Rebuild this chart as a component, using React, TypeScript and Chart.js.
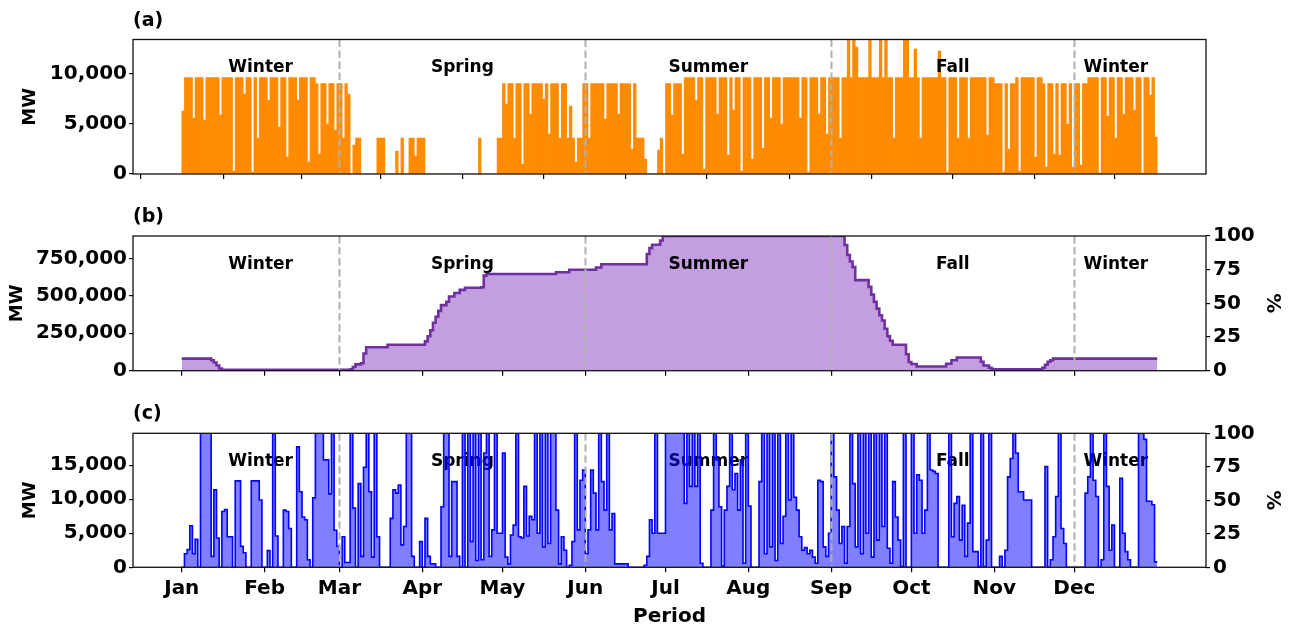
import React, { useEffect, useRef } from "react";
import { Chart, registerables } from "chart.js";

Chart.register(...registerables);

// ---------------- calendar / axes ----------------
const MONTH_LABELS = ["Jan", "Feb", "Mar", "Apr", "May", "Jun", "Jul", "Aug", "Sep", "Oct", "Nov", "Dec"];
const MONTH_START_DAY = [0, 31, 59, 90, 120, 151, 181, 212, 243, 273, 304, 334];
const SEASON_NAMES = ["Winter", "Spring", "Summer", "Fall", "Winter"];
const SEASON_EDGES = [0, 59, 151, 243, 334, 365];
const X_RANGE = [-18.25, 383.25];

const A_TICKS = [0, 5000, 10000];
const A_MAX = 13450;
const B_TICKS = [0, 250000, 500000, 750000];
const B_MAX = 900000;
const C_TICKS = [0, 5000, 10000, 15000];
const C_MAX = 19700;
const PCT_TICKS = [0, 25, 50, 75, 100];

// ---------------- panel (a): daily MW, one array per month ----------------
const A_JAN = [6300, 9650, 9650, 9650, 5600, 9650, 9650, 9650, 5400, 9650, 9650, 9650, 9650, 9650, 5900, 9650, 9650, 9650, 9650, 300, 9650, 9650, 9650, 8000, 9650, 9650, 200, 9650, 3600, 9650, 9650];
const A_FEB = [9650, 7400, 9650, 9650, 9650, 4700, 9650, 9650, 1700, 9650, 9650, 9650, 7400, 9650, 9650, 9650, 1200, 9650, 9650, 9050, 2000, 9050, 9050, 5000, 9050, 9050, 4400, 9050];
const A_MAR = [9050, 3600, 9050, 8000, 0, 2900, 3600, 3600, 0, 0, 0, 0, 0, 0, 3600, 3600, 3600, 0, 0, 0, 0, 2300, 0, 3600, 0, 0, 3600, 3600, 1800, 3600, 3600];
const A_APR = [3600, 0, 0, 0, 0, 0, 0, 0, 0, 0, 0, 0, 0, 0, 0, 0, 0, 0, 0, 0, 0, 3600, 0, 0, 0, 0, 0, 0, 3600, 3600];
const A_MAY = [9050, 7000, 9050, 9050, 3600, 9050, 9050, 1000, 9050, 9050, 6000, 9050, 9050, 9050, 9050, 7500, 9050, 4000, 9050, 9050, 9050, 3600, 9050, 9050, 3600, 6800, 3600, 1200, 3600, 3600, 9050];
const A_JUN = [9050, 3600, 9050, 9050, 9050, 9050, 9050, 5500, 9050, 9050, 9050, 9050, 6000, 9050, 9050, 9050, 9050, 2500, 9050, 3600, 3600, 3600, 1500, 0, 0, 0, 0, 2400, 3600, 0];
const A_JUL = [9050, 9050, 5900, 9050, 9050, 9050, 2000, 9650, 9650, 9650, 9650, 7400, 9650, 9650, 500, 9650, 9650, 9650, 9650, 6000, 9650, 9650, 9650, 1900, 9650, 6400, 9650, 9650, 300, 9650, 9650];
const A_AUG = [9650, 1500, 9650, 9650, 9650, 2600, 9650, 9650, 5600, 9650, 9650, 9650, 5000, 9650, 9650, 9650, 9650, 9650, 9650, 5600, 9650, 9650, 200, 9650, 9650, 9650, 6000, 9650, 9650, 4000, 9650];
const A_SEP = [9650, 9650, 9650, 3600, 9650, 9650, 14000, 9650, 14000, 12700, 9650, 9650, 9650, 9650, 14000, 9650, 9650, 9650, 14000, 9650, 14000, 9650, 9650, 3600, 9650, 9650, 9650, 14000, 14000, 9650];
const A_OCT = [9650, 12500, 9650, 3600, 9650, 9650, 9650, 9650, 9650, 9650, 12300, 9650, 9650, 200, 9650, 9650, 9650, 3600, 9650, 9650, 9650, 3600, 9650, 9650, 9650, 9650, 9650, 9650, 3900, 9650, 9650];
const A_NOV = [9050, 9050, 9050, 200, 9050, 2500, 9050, 9050, 9650, 300, 9650, 9650, 9650, 9650, 9650, 1700, 9650, 9650, 9050, 700, 9050, 9050, 2000, 9050, 1900, 9050, 9050, 5000, 9050, 700];
const A_DEC = [9050, 9050, 900, 9050, 9050, 9650, 9650, 9650, 9650, 100, 9650, 9650, 5800, 9650, 9650, 3600, 9650, 9650, 6000, 9650, 9650, 9650, 6400, 9650, 9650, 100, 9650, 9650, 7900, 9650, 3700];

// ---------------- panel (b): step breakpoints (day, MW) ----------------
const B_DAY = [0, 11, 12, 13, 14, 15, 63, 64, 65, 67, 68, 69, 77, 91, 92, 93, 94, 95, 96, 97, 99, 100, 102, 104, 106, 112, 113, 114, 140, 145, 155, 157, 174, 175, 176, 179, 180, 248, 249, 250, 251, 252, 257, 258, 259, 260, 261, 262, 263, 264, 265, 266, 271, 272, 273, 275, 286, 288, 290, 299, 300, 302, 303, 304, 322, 323, 324, 325, 326, 365];
const B_MW = [81000, 70000, 55000, 35000, 15000, 6000, 10000, 25000, 42000, 50000, 115000, 157000, 173000, 196000, 230000, 270000, 320000, 360000, 400000, 438000, 461000, 496000, 519000, 540000, 554000, 558000, 635000, 646000, 658000, 674000, 690000, 711000, 780000, 819000, 842000, 870000, 900000, 840000, 773000, 730000, 692000, 605000, 560000, 508000, 460000, 415000, 370000, 335000, 280000, 231000, 200000, 173000, 110000, 58000, 45000, 28000, 46000, 70000, 88000, 60000, 35000, 20000, 11500, 9000, 20000, 40000, 60000, 70000, 81000, 81000];

// ---------------- panel (c): daily MW, one array per month ----------------
const C_JAN = [0, 2000, 2600, 6100, 2000, 4100, 0, 19700, 19700, 19700, 19700, 1600, 11400, 4300, 0, 8200, 8500, 4500, 4500, 0, 12700, 12700, 3100, 2150, 0, 0, 12700, 12700, 12700, 9900, 0];
const C_FEB = [0, 2450, 0, 19700, 4600, 0, 0, 8400, 8200, 5700, 0, 0, 17700, 11100, 7400, 7000, 1100, 0, 10200, 19700, 19700, 19700, 15800, 15800, 10800, 19700, 5450, 3100];
const C_MAR = [0, 4500, 700, 700, 19700, 8700, 0, 12300, 1600, 14700, 19700, 11100, 1500, 19700, 4500, 0, 0, 0, 0, 7200, 11400, 10900, 12100, 3300, 6000, 19700, 19700, 1600, 0, 0, 3800];
const C_APR = [0, 7200, 1600, 500, 500, 0, 0, 8900, 19700, 19700, 1600, 12600, 12600, 1600, 0, 19700, 0, 19700, 3800, 19700, 1000, 19700, 1100, 16800, 19700, 1600, 5500, 19700, 5000, 5000];
const C_MAY = [16800, 1500, 500, 4750, 6200, 19700, 4500, 4300, 11900, 4600, 7500, 7000, 19700, 5000, 19700, 3000, 19700, 3500, 19700, 19700, 8400, 500, 4500, 2500, 0, 300, 3800, 19700, 5500, 12800, 14300];
const C_JUN = [2000, 5500, 14300, 10900, 5500, 19700, 12600, 8400, 19700, 5500, 7900, 500, 500, 500, 500, 500, 0, 0, 0, 0, 0, 0, 300, 1600, 7000, 5000, 19700, 5000, 5000, 5000];
const C_JUL = [19700, 19700, 19700, 19700, 19700, 19700, 19700, 9400, 19700, 11900, 19700, 11900, 19700, 600, 0, 0, 0, 8400, 19700, 15800, 8900, 200, 8400, 11900, 19700, 11400, 13800, 8400, 15800, 600, 19700];
const C_AUG = [9000, 0, 0, 0, 12600, 19700, 2000, 19700, 3000, 19700, 1000, 19700, 3500, 7500, 19700, 9900, 19700, 10300, 8400, 4500, 2500, 2900, 2000, 2500, 1500, 600, 12800, 12600, 3000, 1600, 5000];
const C_SEP = [19700, 13300, 8400, 3500, 6000, 600, 6000, 19700, 12300, 3000, 19700, 2000, 19700, 5000, 19700, 1500, 19700, 4000, 19700, 6000, 19700, 2800, 600, 12600, 7400, 4000, 100, 19700, 0, 0];
const C_OCT = [19700, 5000, 13600, 12800, 5000, 8400, 19700, 14300, 14100, 13800, 0, 0, 0, 0, 19700, 4500, 9400, 10400, 4000, 9100, 1600, 6500, 19700, 2300, 2300, 100, 19700, 100, 4000, 19700, 0];
const C_NOV = [0, 0, 1600, 0, 2500, 13300, 16000, 19700, 16800, 11100, 11100, 9900, 9900, 9900, 0, 0, 0, 0, 0, 14800, 0, 1100, 4500, 10400, 19700, 5700, 3500, 0, 0, 0];
const C_DEC = [0, 0, 0, 0, 10900, 13300, 19700, 12800, 10400, 0, 1100, 19700, 11900, 2500, 6200, 0, 0, 13100, 5000, 2300, 1100, 0, 0, 0, 19700, 19700, 18800, 9700, 9700, 9200, 800];

// ---------------- style ----------------
const FAMILY = "'DejaVu Sans', 'Liberation Sans', Arial, sans-serif";
const TICK_FONT = { family: FAMILY, size: 20, weight: "bold" as const };
const AXIS_TITLE_FONT = { family: FAMILY, size: 18, weight: "bold" as const };

const A_DAILY = [A_JAN, A_FEB, A_MAR, A_APR, A_MAY, A_JUN, A_JUL, A_AUG, A_SEP, A_OCT, A_NOV, A_DEC].flat();
const C_DAILY = [C_JAN, C_FEB, C_MAR, C_APR, C_MAY, C_JUN, C_JUL, C_AUG, C_SEP, C_OCT, C_NOV, C_DEC].flat();

function monthAxis(showLabels: boolean, axisHeight: number) {
  return {
    type: "linear",
    min: X_RANGE[0],
    max: X_RANGE[1],
    offset: false,
    afterBuildTicks: (s: any) => {
      s.ticks = MONTH_START_DAY.map((v) => ({ value: v }));
    },
    ticks: {
      display: showLabels,
      autoSkip: false,
      maxRotation: 0,
      minRotation: 0,
      color: "#000",
      font: TICK_FONT,
      padding: 4,
      callback: (_v: any, i: number) => MONTH_LABELS[i],
    },
    grid: { display: true, drawOnChartArea: false, drawTicks: true, tickLength: 5, tickColor: "#000", lineWidth: 1.2 },
    border: { display: false },
    title: {
      display: showLabels,
      text: "Period",
      color: "#000",
      font: { family: FAMILY, size: 20, weight: "bold" },
      padding: { top: 0, bottom: 1 },
    },
    afterFit: (s: any) => {
      s.height = axisHeight;
    },
  };
}

function leftAxis(max: number, ticks: number[], titlePad: number) {
  return {
    type: "linear",
    position: "left",
    min: 0,
    max,
    afterBuildTicks: (s: any) => {
      s.ticks = ticks.map((v) => ({ value: v }));
    },
    ticks: {
      color: "#000",
      font: TICK_FONT,
      padding: 2,
      callback: (v: any) => Number(v).toLocaleString("en-US"),
    },
    grid: { display: true, drawOnChartArea: false, drawTicks: true, tickLength: 4, tickColor: "#000", lineWidth: 1.2 },
    border: { display: false },
    title: { display: true, text: "MW", color: "#000", font: AXIS_TITLE_FONT, padding: { top: titlePad, bottom: 0 } },
    afterFit: (s: any) => {
      s.width = 133;
    },
  };
}

function pctAxis() {
  return {
    type: "linear",
    position: "right",
    min: 0,
    max: 100,
    afterBuildTicks: (s: any) => {
      s.ticks = PCT_TICKS.map((v) => ({ value: v }));
    },
    ticks: { color: "#000", font: TICK_FONT, padding: 3 },
    grid: { display: true, drawOnChartArea: false, drawTicks: true, tickLength: 4, tickColor: "#000", lineWidth: 1.2 },
    border: { display: false },
    title: { display: true, text: "%", color: "#000", font: { family: FAMILY, size: 20, weight: "bold" }, padding: { top: 9, bottom: 0 } },
    afterFit: (s: any) => {
      s.width = 87;
    },
  };
}

function decorPlugin(panelLabel: string, namesUnderData: boolean) {
  const drawNames = (chart: any) => {
    const { ctx, chartArea, scales } = chart;
    ctx.save();
    ctx.font = `bold 17px ${FAMILY}`;
    ctx.fillStyle = "#000";
    ctx.textAlign = "center";
    ctx.textBaseline = "alphabetic";
    const y = chartArea.top + 0.242 * (chartArea.bottom - chartArea.top);
    SEASON_NAMES.forEach((name, i) => {
      const mid = (SEASON_EDGES[i] + SEASON_EDGES[i + 1]) / 2;
      ctx.fillText(name, scales.x.getPixelForValue(mid), y);
    });
    ctx.restore();
  };
  return {
    id: "decor",
    beforeDatasetsDraw(chart: any) {
      if (namesUnderData) drawNames(chart);
    },
    afterDatasetsDraw(chart: any) {
      const { ctx, chartArea, scales } = chart;
      if (!namesUnderData) drawNames(chart);
      // season dividers
      ctx.save();
      ctx.strokeStyle = "#b0b0b0";
      ctx.lineWidth = 2;
      ctx.setLineDash([7.5, 3.5]);
      SEASON_EDGES.slice(1, -1).forEach((d) => {
        const x = Math.round(scales.x.getPixelForValue(d)) + 0.5;
        ctx.beginPath();
        ctx.moveTo(x, chartArea.top);
        ctx.lineTo(x, chartArea.bottom);
        ctx.stroke();
      });
      ctx.restore();
      // frame
      ctx.save();
      ctx.strokeStyle = "#111";
      ctx.lineWidth = 1.3;
      ctx.strokeRect(chartArea.left, chartArea.top, chartArea.right - chartArea.left, chartArea.bottom - chartArea.top);
      ctx.restore();
      // panel label
      ctx.save();
      ctx.font = `bold 19px ${FAMILY}`;
      ctx.fillStyle = "#000";
      ctx.textAlign = "left";
      ctx.textBaseline = "alphabetic";
      ctx.fillText(panelLabel, chartArea.left, chartArea.top - 14);
      ctx.restore();
    },
  };
}

const baseOptions = {
  responsive: false,
  animation: false,
  events: [],
  plugins: { legend: { display: false }, tooltip: { enabled: false }, title: { display: false } },
};

function buildA(): any {
  return {
    type: "bar",
    data: {
      datasets: [
        {
          data: A_DAILY.map((y, i) => ({ x: i + 0.5, y })),
          backgroundColor: "#ff8c00",
          borderWidth: 0,
          barPercentage: 1,
          categoryPercentage: 1,
        },
      ],
    },
    options: {
      ...baseOptions,
      layout: { padding: { top: 39.5, left: 0, right: 87, bottom: 0 } },
      scales: { x: monthAxis(false, 26), y: leftAxis(A_MAX, A_TICKS, 19.7) },
    },
    plugins: [decorPlugin("(a)", false)],
  };
}

function buildB(): any {
  return {
    type: "line",
    data: {
      datasets: [
        {
          data: B_DAY.map((x, i) => ({ x, y: B_MW[i] })),
          stepped: true,
          borderColor: "rgb(112,48,160)",
          borderWidth: 2.6,
          backgroundColor: "rgb(195,158,224)",
          fill: "origin",
          pointRadius: 0,
        },
      ],
    },
    options: {
      ...baseOptions,
      layout: { padding: { top: 36, left: 0, right: 0, bottom: 0 } },
      scales: { x: monthAxis(false, 29.3), y: leftAxis(B_MAX, B_TICKS, 6.8), y1: pctAxis() },
    },
    plugins: [decorPlugin("(b)", false)],
  };
}

function buildC(): any {
  const pts = C_DAILY.map((y, i) => ({ x: i, y }));
  pts.push({ x: C_DAILY.length, y: C_DAILY[C_DAILY.length - 1] });
  return {
    type: "line",
    data: {
      datasets: [
        {
          data: pts,
          stepped: true,
          borderColor: "#0000ff",
          borderWidth: 1.6,
          backgroundColor: "rgba(0,0,255,0.5)",
          fill: "origin",
          pointRadius: 0,
        },
      ],
    },
    options: {
      ...baseOptions,
      layout: { padding: { top: 33.3, left: 0, right: 0, bottom: 0 } },
      scales: { x: monthAxis(true, 62.7), y: leftAxis(C_MAX, C_TICKS, 19.7), y1: pctAxis() },
    },
    plugins: [decorPlugin("(c)", true)],
  };
}

export default function App() {
  const aRef = useRef<HTMLCanvasElement>(null);
  const bRef = useRef<HTMLCanvasElement>(null);
  const cRef = useRef<HTMLCanvasElement>(null);

  useEffect(() => {
    const charts = [
      new Chart(aRef.current as HTMLCanvasElement, buildA()),
      new Chart(bRef.current as HTMLCanvasElement, buildB()),
      new Chart(cRef.current as HTMLCanvasElement, buildC()),
    ];
    return () => charts.forEach((c) => c.destroy());
  }, []);

  return (
    <div style={{ position: "absolute", left: 0, top: 0, width: 1293, height: 630, background: "#fff", overflow: "hidden" }}>
      <canvas ref={aRef} width={1293} height={200} style={{ position: "absolute", left: 0, top: 0 }} />
      <canvas ref={bRef} width={1293} height={200} style={{ position: "absolute", left: 0, top: 200 }} />
      <canvas ref={cRef} width={1293} height={230} style={{ position: "absolute", left: 0, top: 400 }} />
    </div>
  );
}
